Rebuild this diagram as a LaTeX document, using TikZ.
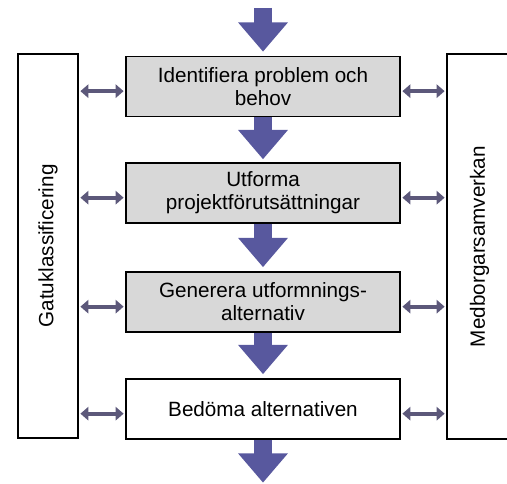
\documentclass[tikz,border=0pt]{standalone}
\usepackage{fontspec}
\setmainfont{Liberation Sans}
\usetikzlibrary{arrows.meta}

\definecolor{flowblue}{RGB}{88,88,158}
\definecolor{linkgray}{RGB}{92,88,122}
\definecolor{boxgray}{RGB}{216,216,216}

\tikzset{
  stepbox/.style={draw=black, line width=1.2pt, fill=boxgray,
    minimum width=205.5pt, minimum height=45pt, align=center, inner sep=2pt,
    font=\fontsize{15.5}{17.25}\selectfont},
  sidebox/.style={draw=black, line width=1.2pt, fill=white, rotate=90,
    font=\fontsize{15.5}{17.25}\selectfont},
  flow/.style={flowblue, line width=13.5pt, -{Triangle[length=22pt, width=36pt]}},
  link/.style={linkgray, line width=3.2pt,
    {Triangle[length=6pt, width=10pt]}-{Triangle[length=6pt, width=10pt]},
    shorten <=1.2pt, shorten >=1.2pt}
}

\begin{document}
\begin{tikzpicture}[x=0.75pt, y=-0.75pt]
  % frame of the picture
  \path[use as bounding box, clip] (0,0) rectangle (507,484);

  % side columns
  \node[sidebox, minimum width=288pt, minimum height=45pt] (gatu) at (48,246) {Gatuklassificering};
  \node[sidebox, minimum width=288.75pt, minimum height=48.75pt] (medb) at (479.5,246.5) {Medborgarsamverkan};

  % steps
  \node[stepbox] (ident) at (263,86.5) {Identifiera problem och\\behov};
  \node[stepbox] (utform) at (263,193) {Utforma\\projektförutsättningar};
  \node[stepbox] (gener) at (263,302) {Generera utformnings-\\alternativ};
  \node[stepbox, fill=white] (bedom) at (263,409) {Bedöma alternativen};

  % in and out
  \coordinate (in) at (263,8);
  \coordinate (out) at (263,484);

  % main flow
  \draw[flow, shorten >=3pt] (in) -- (ident.north);
  \draw[flow, shorten >=2.2pt] (ident.south) -- (utform.north);
  \draw[flow, shorten >=3pt] (utform.south) -- (gener.north);
  \draw[flow, shorten >=3pt] (gener.south) -- (bedom.north);
  \draw[flow, shorten >=1pt] (bedom.south) -- (out);

  % links to the side columns
  \foreach \s in {ident, utform, gener, bedom} {
    \draw[link] ([yshift=-3.5pt]gatu.south |- \s.west) -- ([yshift=-3.5pt]\s.west);
    \draw[link] ([yshift=-3.5pt]\s.east) -- ([yshift=-3.5pt]medb.north |- \s.east);
  }
\end{tikzpicture}
\end{document}
